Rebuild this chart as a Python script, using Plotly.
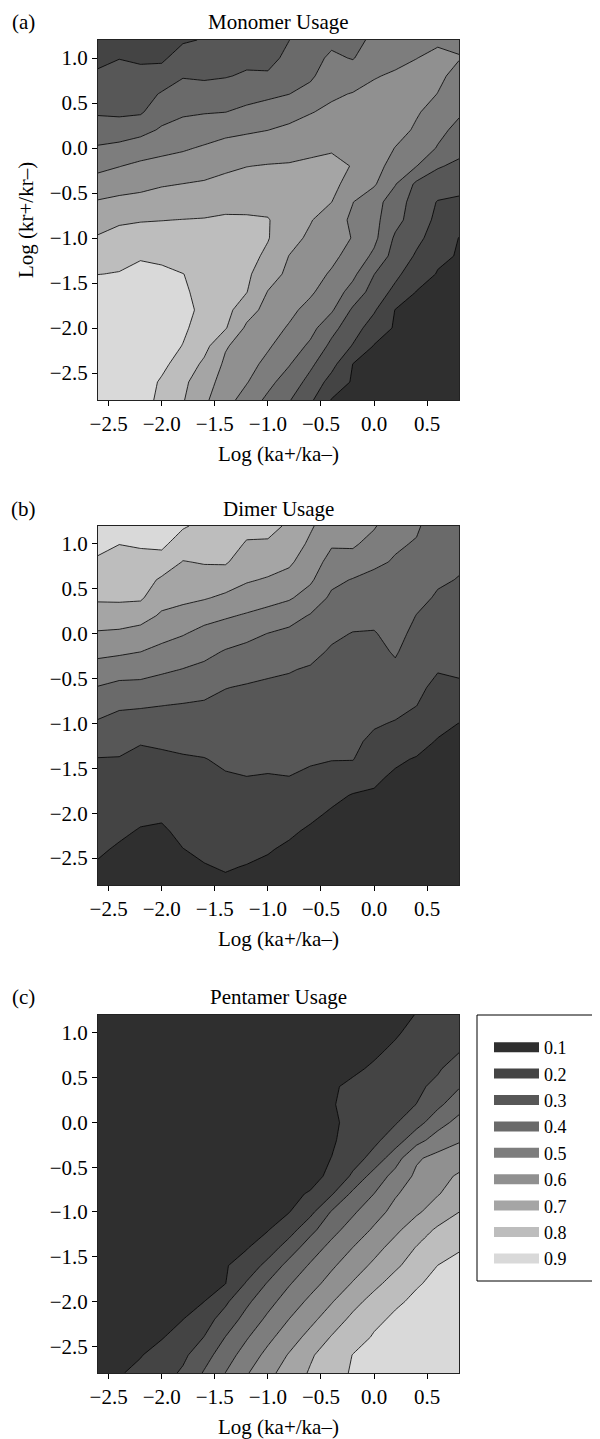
import plotly.graph_objects as go

# ---------------- data ----------------
ka_log = [-2.6, -2.4, -2.2, -2.0, -1.8, -1.6, -1.4, -1.2, -1.0, -0.8,
          -0.6, -0.4, -0.2, 0.0, 0.2, 0.4, 0.6, 0.8]
kr_log = [-2.8, -2.6, -2.4, -2.2, -2.0, -1.8, -1.6, -1.4, -1.2, -1.0, -0.8,
          -0.6, -0.4, -0.2, 0.0, 0.2, 0.4, 0.6, 0.8, 1.0, 1.2]

# rows follow kr_log (bottom to top), columns follow ka_log
monomer = [
    [0.87, 0.86, 0.84, 0.776, 0.707, 0.618, 0.538, 0.458, 0.379, 0.307, 0.218, 0.095, 0.08, 0.07, 0.06, 0.05, 0.045, 0.04],
    [0.87, 0.86, 0.84, 0.79, 0.723, 0.638, 0.565, 0.506, 0.428, 0.352, 0.271, 0.162, 0.09, 0.08, 0.07, 0.06, 0.05, 0.045],
    [0.87, 0.86, 0.845, 0.82, 0.763, 0.681, 0.583, 0.533, 0.476, 0.407, 0.318, 0.233, 0.099, 0.085, 0.075, 0.065, 0.055, 0.05],
    [0.875, 0.87, 0.86, 0.84, 0.797, 0.732, 0.609, 0.557, 0.511, 0.453, 0.382, 0.276, 0.194, 0.095, 0.085, 0.075, 0.065, 0.06],
    [0.87, 0.87, 0.86, 0.85, 0.815, 0.76, 0.708, 0.582, 0.538, 0.491, 0.432, 0.331, 0.241, 0.155, 0.09, 0.08, 0.07, 0.065],
    [0.87, 0.865, 0.855, 0.85, 0.825, 0.779, 0.731, 0.642, 0.567, 0.522, 0.471, 0.412, 0.285, 0.211, 0.097, 0.088, 0.08, 0.075],
    [0.86, 0.855, 0.85, 0.84, 0.81, 0.779, 0.742, 0.703, 0.596, 0.554, 0.513, 0.452, 0.364, 0.258, 0.174, 0.097, 0.09, 0.085],
    [0.798, 0.805, 0.82, 0.815, 0.801, 0.781, 0.752, 0.716, 0.647, 0.577, 0.535, 0.49, 0.423, 0.302, 0.223, 0.142, 0.095, 0.09],
    [0.755, 0.768, 0.793, 0.785, 0.768, 0.765, 0.745, 0.73, 0.683, 0.598, 0.56, 0.521, 0.467, 0.38, 0.259, 0.189, 0.115, 0.095],
    [0.709, 0.73, 0.744, 0.743, 0.735, 0.74, 0.73, 0.72, 0.705, 0.638, 0.58, 0.539, 0.496, 0.425, 0.284, 0.221, 0.161, 0.098],
    [0.659, 0.687, 0.694, 0.698, 0.702, 0.705, 0.71, 0.71, 0.705, 0.655, 0.607, 0.543, 0.484, 0.427, 0.333, 0.246, 0.18, 0.14],
    [0.608, 0.623, 0.631, 0.646, 0.651, 0.659, 0.678, 0.676, 0.673, 0.65, 0.625, 0.601, 0.502, 0.4375, 0.35, 0.256, 0.195, 0.19],
    [0.541, 0.559, 0.573, 0.591, 0.601, 0.61, 0.629, 0.637, 0.639, 0.64, 0.64, 0.62, 0.571, 0.512, 0.405, 0.28, 0.25, 0.22],
    [0.474, 0.497, 0.519, 0.532, 0.544, 0.56, 0.58, 0.598, 0.605, 0.608, 0.618, 0.628, 0.595, 0.53, 0.469, 0.402, 0.309, 0.28],
    [0.41, 0.428, 0.452, 0.473, 0.489, 0.51, 0.532, 0.543, 0.554, 0.564, 0.578, 0.589, 0.58, 0.56, 0.497, 0.447, 0.395, 0.33],
    [0.345, 0.343, 0.368, 0.412, 0.437, 0.453, 0.474, 0.487, 0.499, 0.52, 0.54, 0.55, 0.56, 0.56, 0.54, 0.485, 0.42, 0.38],
    [0.289, 0.284, 0.288, 0.36, 0.386, 0.394, 0.399, 0.42, 0.441, 0.4625, 0.495, 0.52, 0.54, 0.55, 0.55, 0.51, 0.46, 0.41],
    [0.252, 0.256, 0.255, 0.31, 0.341, 0.339, 0.344, 0.368, 0.381, 0.399, 0.431, 0.485, 0.505, 0.52, 0.53, 0.54, 0.498, 0.46],
    [0.215, 0.227, 0.222, 0.236, 0.294, 0.287, 0.295, 0.31, 0.31, 0.367, 0.385, 0.452, 0.45, 0.495, 0.51, 0.52, 0.52, 0.47],
    [0.178, 0.198, 0.188, 0.185, 0.239, 0.242, 0.26, 0.28, 0.275, 0.32, 0.37, 0.415, 0.395, 0.45, 0.48, 0.499, 0.515, 0.505],
    [0.15, 0.17, 0.155, 0.16, 0.19, 0.205, 0.22, 0.24, 0.255, 0.299, 0.34, 0.38, 0.37, 0.42, 0.46, 0.48, 0.49, 0.48],
]

# one list per ka_log column, values follow kr_log (bottom to top)
dimer_by_ka = [
    [0.08, 0.092, 0.11, 0.127, 0.144, 0.162, 0.179, 0.196, 0.239, 0.288, 0.341, 0.395, 0.46, 0.525, 0.589, 0.656, 0.713, 0.75, 0.787, 0.824, 0.85],
    [0.06, 0.071, 0.092, 0.112, 0.133, 0.154, 0.174, 0.195, 0.229, 0.269, 0.312, 0.373, 0.442, 0.516, 0.581, 0.658, 0.714, 0.743, 0.772, 0.801, 0.83],
    [0.045, 0.055, 0.075, 0.095, 0.116, 0.138, 0.159, 0.181, 0.205, 0.256, 0.309, 0.372, 0.435, 0.501, 0.5625, 0.64, 0.713, 0.744, 0.776, 0.808, 0.835],
    [0.04, 0.05, 0.067, 0.089, 0.113, 0.136, 0.16, 0.184, 0.213, 0.257, 0.301, 0.357, 0.415, 0.474, 0.531, 0.586, 0.637, 0.685, 0.761, 0.82, 0.84],
    [0.062, 0.081, 0.099, 0.118, 0.136, 0.155, 0.173, 0.192, 0.22, 0.257, 0.294, 0.345, 0.397, 0.451, 0.506, 0.569, 0.619, 0.658, 0.696, 0.753, 0.81],
    [0.079, 0.096, 0.113, 0.13, 0.147, 0.164, 0.181, 0.197, 0.226, 0.257, 0.288, 0.329, 0.378, 0.426, 0.472, 0.532, 0.608, 0.657, 0.707, 0.74, 0.775],
    [0.088, 0.105, 0.123, 0.14, 0.158, 0.175, 0.193, 0.213, 0.235, 0.257, 0.279, 0.302, 0.348, 0.393, 0.45, 0.511, 0.582, 0.647, 0.71, 0.73, 0.75],
    [0.077, 0.097, 0.117, 0.138, 0.158, 0.179, 0.199, 0.218, 0.236, 0.255, 0.274, 0.293, 0.327, 0.373, 0.426, 0.49, 0.553, 0.61, 0.652, 0.694, 0.72],
    [0.062, 0.084, 0.107, 0.129, 0.151, 0.173, 0.196, 0.215, 0.233, 0.251, 0.269, 0.287, 0.313, 0.355, 0.398, 0.468, 0.532, 0.591, 0.643, 0.692, 0.72],
    [0.045, 0.06, 0.086, 0.114, 0.142, 0.17, 0.199, 0.216, 0.233, 0.25, 0.268, 0.285, 0.304, 0.342, 0.379, 0.436, 0.511, 0.567, 0.616, 0.656, 0.69],
    [0.04, 0.05, 0.07, 0.087, 0.12, 0.152, 0.185, 0.209, 0.226, 0.243, 0.26, 0.276, 0.293, 0.321, 0.357, 0.393, 0.459, 0.515, 0.548, 0.582, 0.613],
    [0.03, 0.045, 0.06, 0.075, 0.09, 0.122, 0.165, 0.203, 0.218, 0.232, 0.247, 0.262, 0.276, 0.291, 0.314, 0.348, 0.383, 0.422, 0.467, 0.51, 0.54],
    [0.025, 0.035, 0.05, 0.065, 0.08, 0.095, 0.148, 0.203, 0.217, 0.23, 0.243, 0.257, 0.27, 0.283, 0.297, 0.326, 0.36, 0.395, 0.457, 0.515, 0.53],
    [0.03, 0.04, 0.055, 0.07, 0.08, 0.093, 0.111, 0.146, 0.182, 0.209, 0.226, 0.243, 0.26, 0.277, 0.295, 0.321, 0.35, 0.379, 0.415, 0.463, 0.51],
    [0.03, 0.04, 0.05, 0.06, 0.07, 0.08, 0.09, 0.11, 0.152, 0.194, 0.225, 0.255, 0.285, 0.308, 0.325, 0.342, 0.359, 0.376, 0.393, 0.41, 0.43],
    [0.025, 0.035, 0.045, 0.055, 0.065, 0.075, 0.085, 0.095, 0.125, 0.163, 0.201, 0.22, 0.24, 0.259, 0.279, 0.298, 0.322, 0.346, 0.37, 0.394, 0.41],
    [0.02, 0.028, 0.036, 0.044, 0.052, 0.06, 0.07, 0.08, 0.095, 0.12, 0.149, 0.178, 0.205, 0.227, 0.248, 0.27, 0.291, 0.31, 0.33, 0.345, 0.36],
    [0.02, 0.025, 0.03, 0.035, 0.04, 0.05, 0.06, 0.07, 0.085, 0.099, 0.143, 0.187, 0.212, 0.229, 0.246, 0.263, 0.28, 0.297, 0.31, 0.325, 0.34],
]

# rows follow kr_log (bottom to top), columns follow ka_log
pentamer = [
    [0.084, 0.094, 0.118, 0.162, 0.214, 0.309, 0.401, 0.491, 0.572, 0.645, 0.71, 0.763, 0.81, 0.825, 0.84, 0.855, 0.865, 0.875],
    [0.076, 0.086, 0.096, 0.13, 0.18, 0.26, 0.355, 0.443, 0.528, 0.608, 0.688, 0.749, 0.802, 0.82, 0.835, 0.85, 0.86, 0.87],
    [0.065, 0.075, 0.085, 0.095, 0.133, 0.202, 0.302, 0.391, 0.475, 0.554, 0.631, 0.706, 0.767, 0.807, 0.825, 0.84, 0.855, 0.865],
    [0.06, 0.07, 0.08, 0.09, 0.099, 0.161, 0.24, 0.335, 0.42, 0.501, 0.574, 0.65, 0.722, 0.784, 0.812, 0.828, 0.844, 0.86],
    [0.05, 0.06, 0.07, 0.08, 0.09, 0.099, 0.183, 0.28, 0.367, 0.446, 0.521, 0.593, 0.669, 0.733, 0.789, 0.813, 0.83, 0.845],
    [0.04, 0.05, 0.06, 0.07, 0.08, 0.09, 0.098, 0.21, 0.308, 0.392, 0.464, 0.536, 0.607, 0.676, 0.737, 0.794, 0.815, 0.83],
    [0.035, 0.045, 0.055, 0.065, 0.075, 0.085, 0.094, 0.136, 0.233, 0.332, 0.411, 0.485, 0.553, 0.619, 0.684, 0.743, 0.801, 0.815],
    [0.03, 0.04, 0.05, 0.06, 0.07, 0.08, 0.088, 0.095, 0.145, 0.25, 0.35, 0.429, 0.501, 0.567, 0.636, 0.705, 0.75, 0.795],
    [0.025, 0.03, 0.04, 0.05, 0.06, 0.07, 0.078, 0.086, 0.096, 0.157, 0.271, 0.367, 0.443, 0.513, 0.58, 0.65, 0.715, 0.76],
    [0.02, 0.025, 0.03, 0.04, 0.05, 0.06, 0.065, 0.075, 0.085, 0.097, 0.173, 0.308, 0.385, 0.462, 0.529, 0.586, 0.643, 0.699],
    [0.015, 0.02, 0.025, 0.03, 0.04, 0.05, 0.055, 0.065, 0.075, 0.09, 0.104, 0.191, 0.323, 0.401, 0.491, 0.545, 0.595, 0.64],
    [0.01, 0.015, 0.02, 0.025, 0.03, 0.035, 0.04, 0.05, 0.06, 0.07, 0.085, 0.11, 0.217, 0.342, 0.432, 0.519, 0.573, 0.61],
    [0.01, 0.012, 0.015, 0.02, 0.025, 0.03, 0.035, 0.04, 0.05, 0.06, 0.075, 0.101, 0.157, 0.233, 0.359, 0.487, 0.53, 0.56],
    [0.008, 0.01, 0.012, 0.015, 0.02, 0.025, 0.03, 0.035, 0.045, 0.055, 0.07, 0.09, 0.133, 0.178, 0.25, 0.367, 0.443, 0.49],
    [0.008, 0.01, 0.012, 0.015, 0.018, 0.02, 0.025, 0.03, 0.04, 0.05, 0.065, 0.085, 0.125, 0.158, 0.192, 0.26, 0.362, 0.429],
    [0.006, 0.008, 0.01, 0.012, 0.015, 0.018, 0.02, 0.025, 0.03, 0.04, 0.055, 0.095, 0.121, 0.147, 0.174, 0.201, 0.277, 0.361],
    [0.005, 0.006, 0.008, 0.01, 0.012, 0.015, 0.018, 0.02, 0.025, 0.035, 0.05, 0.09, 0.117, 0.139, 0.162, 0.184, 0.22, 0.292],
    [0.004, 0.005, 0.006, 0.008, 0.01, 0.012, 0.015, 0.018, 0.022, 0.03, 0.045, 0.065, 0.085, 0.112, 0.138, 0.164, 0.19, 0.241],
    [0.003, 0.004, 0.005, 0.006, 0.008, 0.01, 0.012, 0.015, 0.018, 0.022, 0.03, 0.045, 0.065, 0.085, 0.116, 0.144, 0.17, 0.195],
    [0.003, 0.003, 0.004, 0.005, 0.006, 0.008, 0.01, 0.012, 0.015, 0.018, 0.025, 0.035, 0.05, 0.065, 0.09, 0.127, 0.155, 0.18],
    [0.002, 0.003, 0.003, 0.004, 0.005, 0.006, 0.008, 0.01, 0.012, 0.015, 0.02, 0.03, 0.04, 0.055, 0.075, 0.103, 0.13, 0.155],
]

level_labels = ["0.1", "0.2", "0.3", "0.4", "0.5", "0.6", "0.7", "0.8", "0.9"]
band_colors = ["#2f2f2f", "#444444", "#575757", "#6a6a6a", "#7d7d7d",
               "#909090", "#a5a5a5", "#bdbdbd", "#d9d9d9"]
x_ticks = [-2.5, -2.0, -1.5, -1.0, -0.5, 0.0, 0.5]
y_ticks = [-2.5, -2.0, -1.5, -1.0, -0.5, 0.0, 0.5, 1.0]
panel_titles = ["Monomer Usage", "Dimer Usage", "Pentamer Usage"]
panel_tags = ["(a)", "(b)", "(c)"]
x_title = "Log (ka+/ka\u2013)"
y_title = "Log (kr+/kr\u2013)"

# dimer grid re-arranged to rows (kr_log) x columns (ka_log)
dimer = [list(row) for row in zip(*dimer_by_ka)]

# ---------------- figure ----------------
FONT = "Liberation Serif"
OFF = 8                      # page offset of the plot div (body margin)
W, H = 600, 1439
ML, MT = 98 - OFF, 40 - OFF  # plot area left / top in figure pixels
PW = 361
PH = (1373 - 40)
MR = W - ML - PW
MB = H - MT - PH


def py(p):
    """page pixel row -> paper y"""
    return 1 - (p - OFF - MT) / PH


def px(p):
    """page pixel column -> paper x"""
    return (p - OFF - ML) / PW


n = len(band_colors)
colorscale = [[i / (n - 1), c] for i, c in enumerate(band_colors)]
contour_cfg = dict(start=0.1, end=0.8, size=0.1, coloring="fill", showlines=True)
line_cfg = dict(color="black", width=0.8, smoothing=0)

fig = go.Figure()
for z, xa, ya in [(monomer, "x", "y"), (dimer, "x2", "y2"), (pentamer, "x3", "y3")]:
    fig.add_trace(go.Contour(x=ka_log, y=kr_log, z=z, autocontour=False,
                             contours=contour_cfg, colorscale=colorscale,
                             line=line_cfg, showscale=False, hoverinfo="skip",
                             xaxis=xa, yaxis=ya))

# legend entries (one per band colour)
for lab, col in zip(level_labels, band_colors):
    fig.add_trace(go.Scatter(x=[None], y=[None], mode="lines", name=lab,
                             line=dict(color=col, width=10),
                             xaxis="x3", yaxis="y3", showlegend=True,
                             hoverinfo="skip"))

domains = [(py(400), py(40)), (py(885), py(526)), (py(1373), py(1015))]
axis_ids = [("x", "y"), ("x2", "y2"), ("x3", "y3")]
tickfont = dict(family=FONT, size=21, color="black")
titlefont = dict(family=FONT, size=21, color="black")

layout_axes = {}
for i, (dom, (xa, ya)) in enumerate(zip(domains, axis_ids)):
    xs = "xaxis" if i == 0 else f"xaxis{i+1}"
    ys = "yaxis" if i == 0 else f"yaxis{i+1}"
    layout_axes[xs] = dict(
        domain=[0, 1], anchor=ya, range=[-2.6, 0.8], tickvals=x_ticks,
        tickformat=".1f", ticks="outside", ticklen=5, tickcolor="black",
        showline=True, linecolor="#222", linewidth=1, mirror=True,
        showgrid=False, zeroline=False, tickfont=tickfont,
        title=dict(text=x_title, font=titlefont, standoff=11),
    )
    layout_axes[ys] = dict(
        domain=[max(0, dom[0]), min(1, dom[1])], anchor=xa, range=[-2.8, 1.2],
        tickvals=y_ticks, tickformat=".1f", ticks="outside", ticklen=5,
        tickcolor="black", showline=True, linecolor="#222", linewidth=1,
        mirror=True, showgrid=False, zeroline=False, tickfont=tickfont,
    )
layout_axes["yaxis"]["title"] = dict(text=y_title, font=titlefont, standoff=10)

annotations = []
title_y = [22, 509, 997]
for t, tag, yy in zip(panel_titles, panel_tags, title_y):
    annotations.append(dict(text=t, x=0.5, y=py(yy), xref="paper", yref="paper",
                            xanchor="center", yanchor="middle", showarrow=False,
                            font=titlefont))
    annotations.append(dict(text=tag, x=px(23), y=py(yy), xref="paper", yref="paper",
                            xanchor="center", yanchor="middle", showarrow=False,
                            font=titlefont))

shapes = [dict(type="rect", xref="paper", yref="paper",
               x0=px(477), x1=px(598), y0=py(1281), y1=py(1015),
               line=dict(color="black", width=1), fillcolor="rgba(0,0,0,0)")]

fig.update_layout(
    width=W, height=H,
    margin=dict(l=ML, r=MR, t=MT, b=MB, pad=0),
    paper_bgcolor="white", plot_bgcolor="white",
    font=dict(family=FONT, size=20, color="black"),
    showlegend=True,
    legend=dict(x=px(489), y=py(1029), xanchor="left", yanchor="top",
                bgcolor="rgba(0,0,0,0)", borderwidth=0, itemwidth=45,
                font=dict(family=FONT, size=18, color="black"),
                traceorder="normal", itemclick=False, itemdoubleclick=False),
    annotations=annotations, shapes=shapes,
    **layout_axes,
)

fig.write_html("out.html")
